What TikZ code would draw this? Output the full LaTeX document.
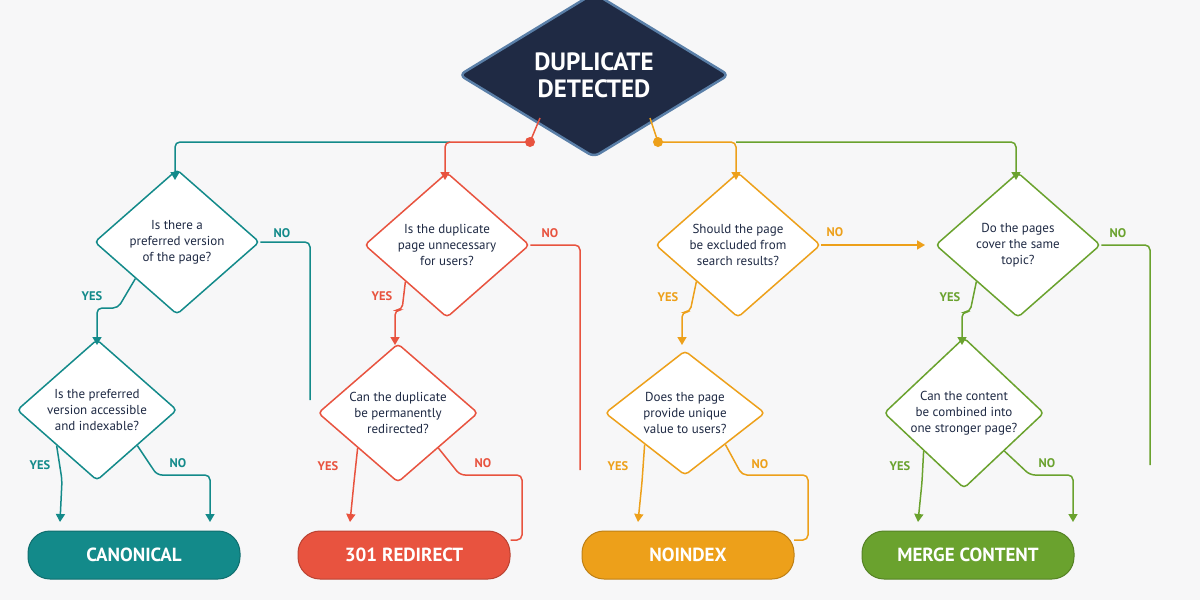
\documentclass[tikz,border=0pt]{standalone}
\usepackage{fontspec}
\setmainfont{PT Sans}
\usetikzlibrary{shapes.geometric,arrows.meta}
\definecolor{teal1}{HTML}{138A8A}
\definecolor{red1}{HTML}{E8533F}
\definecolor{orange1}{HTML}{EDA01A}
\definecolor{green1}{HTML}{6AA22E}
\definecolor{navy}{HTML}{1F2A44}
\definecolor{steel}{HTML}{5A7FA8}
\definecolor{bg}{HTML}{F7F7F8}
\tikzset{
 q/.style={diamond,draw=#1,line width=1.5pt,fill=white,rounded corners=4pt,inner sep=0pt,align=center,text=navy,font=\fontsize{13}{16}\selectfont,minimum width=165pt,minimum height=145pt},
 q2/.style={q=#1,minimum width=160pt,minimum height=122pt},
 term/.style={rounded corners=22pt,fill=#1,draw=#1!80!black,line width=1pt,minimum width=212pt,minimum height=48pt,text=white,font=\fontsize{19}{21}\selectfont\bfseries},
 ln/.style={draw=#1,line width=1.5pt,rounded corners=5pt},
 ar/.style={ln=#1,-{Triangle[length=8pt,width=9pt]}},
 lab/.style={text=#1,font=\fontsize{12.5}{14}\selectfont\bfseries},
}
\begin{document}
\begin{tikzpicture}[x=1pt,y=-1pt]
\fill[bg] (0,0) rectangle (1200,600);
\useasboundingbox (0,0) rectangle (1200,600);
% top
\node[diamond,fill=navy,draw=steel,line width=2.5pt,rounded corners=6pt,minimum width=270pt,minimum height=130pt,inner sep=0pt,align=center,text=white,font=\fontsize{25}{27}\selectfont\bfseries] (top) at (594,75) {DUPLICATE\\DETECTED};
\coordinate (rd) at (530,142); \coordinate (od) at (658,142);
% level 1
\node[q=teal1] (t1) at (177,242) {Is there a\\preferred version\\of the page?};
\node[q=red1] (r1) at (447,245) {Is the duplicate\\page unnecessary\\for users?};
\node[q=orange1] (o1) at (738,245) {Should the page\\be excluded from\\search results?};
\node[q=green1] (g1) at (1018,245) {Do the pages\\cover the same\\topic?};
% level 2
\node[q2=teal1] (t2) at (97,410) {Is the preferred\\version accessible\\and indexable?};
\node[q2=red1] (r2) at (398,413) {Can the duplicate\\be permanently\\redirected?};
\node[q2=orange1] (o2) at (685,413) {Does the page\\provide unique\\value to users?};
\node[q2=green1] (g2) at (964,413) {Can the content\\be combined into\\one stronger page?};
% terminals
\node[term=teal1] (tc) at (134,555) {CANONICAL};
\node[term=red1] (tr) at (404,555) {301 REDIRECT};
\node[term=orange1] (to) at (688,555) {NOINDEX};
\node[term=green1] (tg) at (968,555) {MERGE CONTENT};
% top connectors
\draw[ar=teal1] (450,142) -- (175,142) -- (175,180);
\draw[ar=red1] (540,118) -- (rd) -- (445,142) -- (445,180);
\draw[ar=orange1] (650,118) -- (od) -- (736,142) -- (736,180);
\draw[ar=green1] (736,142) -- (1016,142) -- (1016,180);
\fill[red1] (rd) circle (5pt); \fill[orange1] (od) circle (5pt);
% teal
\draw[ln=teal1] (t1.east) -- (310,242) -- (310,400);
\draw[ar=teal1] (t1.south west) -- (118,308) -- (97,308) -- (97,345);
\draw[ar=teal1] (t2.south west) -- (62,480) -- (60,522);
\draw[ar=teal1] (t2.south east) -- (157,475) -- (210,475) -- (210,522);
% red
\draw[ln=red1] (r1.east) -- (580,245) -- (580,470);
\draw[ar=red1] (r1.south west) -- (402,310) -- (395,310) -- (395,345);
\draw[ar=red1] (r2.south west) -- (354,482) -- (350,522);
\draw[ln=red1] (r2.south east) -- (460,475) -- (522,475) -- (522,540) -- (tr.east|-0,540);
% orange
\draw[ar=orange1] (o1.east) -- (925,245);
\draw[ar=orange1] (o1.south west) -- (690,312) -- (682,312) -- (682,345);
\draw[ar=orange1] (o2.south west) -- (642,482) -- (638,522);
\draw[ln=orange1] (o2.south east) -- (742,475) -- (808,475) -- (808,540) -- (794,540);
% green
\draw[ln=green1] (g1.east) -- (1150,245) -- (1150,465);
\draw[ar=green1] (g1.south west) -- (970,312) -- (962,312) -- (962,345);
\draw[ar=green1] (g2.south west) -- (922,482) -- (918,522);
\draw[ar=green1] (g2.south east) -- (1030,475) -- (1073,475) -- (1073,522);
% labels
\node[lab=teal1] at (282,233) {NO};
\node[lab=teal1] at (92,296) {YES};
\node[lab=teal1] at (40,465) {YES};
\node[lab=teal1] at (178,463) {NO};
\node[lab=red1] at (550,233) {NO};
\node[lab=red1] at (382,296) {YES};
\node[lab=red1] at (328,466) {YES};
\node[lab=red1] at (483,463) {NO};
\node[lab=orange1] at (835,232) {NO};
\node[lab=orange1] at (668,297) {YES};
\node[lab=orange1] at (618,466) {YES};
\node[lab=orange1] at (760,464) {NO};
\node[lab=green1] at (1118,233) {NO};
\node[lab=green1] at (950,297) {YES};
\node[lab=green1] at (900,466) {YES};
\node[lab=green1] at (1047,463) {NO};
\end{tikzpicture}
\end{document}
